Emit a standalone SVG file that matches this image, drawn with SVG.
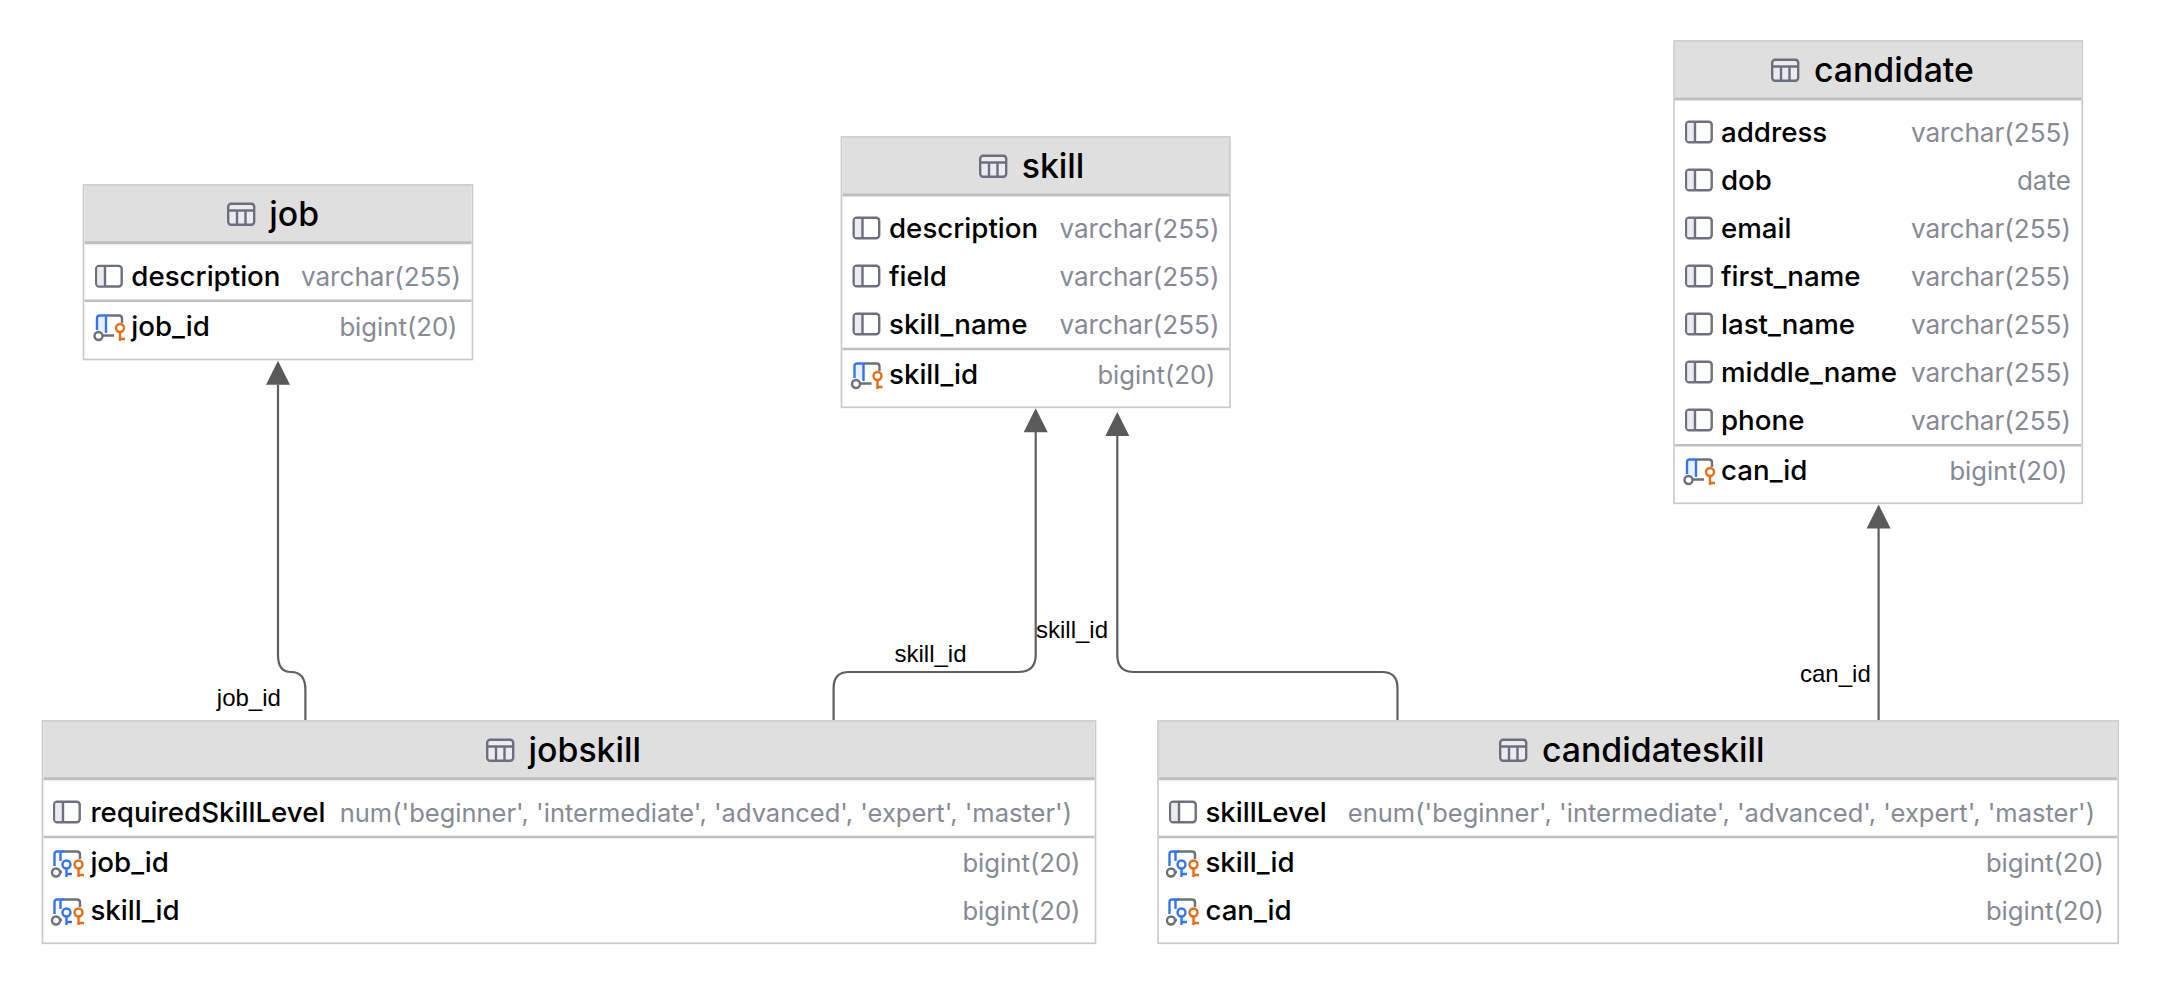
<svg xmlns="http://www.w3.org/2000/svg" width="2160" height="984" viewBox="0 0 2160 984">
<style>
text{font-family:Inter,"Noto Sans",sans-serif}
.box{fill:#fff;stroke:#cacaca;stroke-width:1.700}
.hd{fill:#dfdfdf}
.hl{stroke:#bfbfbf;stroke-width:3;fill:none}
.sep{stroke:#c0c0c0;stroke-width:2.400;fill:none}
.title{font-size:33.800px;font-weight:500;fill:#000}
.name{font-size:27.700px;font-weight:500;fill:#000}
.type{font-size:25.700px;fill:#868a96;text-anchor:end}
.v{font-size:26.100px}
.long{font-size:25.500px}
.conn{fill:none;stroke:#5f5f5f;stroke-width:2.200}
.lbl{font-family:"Liberation Sans",Arial,sans-serif;font-size:24px;fill:#000}
.ic{fill:none;stroke:#6c707e;stroke-width:2.400}
.bl{fill:none;stroke:#3574f0;stroke-width:2.400}
.or{fill:none;stroke:#e66d17;stroke-width:2.400}
</style>
<defs>
<g id="tbl"><rect x="1.200" y="1.200" width="26" height="21" rx="3" fill="#ebecf0" stroke="#6c707e" stroke-width="2.400"/><path class="ic" d="M1 8H27M10 8V22M18.500 8V22"/></g>
<g id="col"><rect x="1.200" y="1.200" width="25.500" height="20.600" rx="3" fill="#fff" stroke="#6c707e" stroke-width="2.400"/><path d="M2.400 2.400H10V20.600H2.400Z" fill="#ebecf0"/><path class="ic" d="M10 1V22"/></g>
<g id="pk"><path d="M2 2.500H11V18H2Z" fill="#eaf1fe"/><path class="ic" d="M11 1.500H24Q27 1.500 27 4.500V9M8 21.500H19"/><path class="bl" d="M2 16V4.500Q2 1.500 5 1.500H11M11 1.500V19"/><circle class="ic" cx="3.500" cy="22" r="4"/><circle class="or" cx="25" cy="14" r="4"/><path class="or" d="M25 18V27M25 25H30"/></g>
<g id="fk"><path class="ic" d="M9 1.500H24Q27 1.500 27 4.500V9"/><path class="bl" d="M1.500 16V4.500Q1.500 1.500 4.500 1.500H11M7.500 1.500V11"/><path class="ic" d="M7 22H9"/><circle class="ic" cx="3" cy="22.500" r="4"/><circle class="bl" cx="13.500" cy="14.500" r="4"/><path class="bl" d="M13.500 18.500V27M13.500 24H19"/><circle class="or" cx="25.500" cy="14.500" r="4"/><path class="or" d="M25.500 18.500V27M25.500 25H31"/></g>
</defs>
<rect width="2160" height="984" fill="#fff"/>
<g id="connectors">
<path class="conn" d="M305.400 720V690Q305.400 672 291 672Q278 672 278 655V384.700"/>
<path d="M278 360.700L290 384.700H266Z" fill="#5a5a5a"/>
<path class="conn" d="M833.600 720V688Q833.600 672 849 672H1018Q1035.700 672 1035.700 655V432"/>
<path d="M1035.700 408.300L1047.700 432.300H1023.700Z" fill="#5a5a5a"/>
<path class="conn" d="M1397.500 720V688Q1397.500 672 1382 672H1134Q1117.300 672 1117.300 655V436"/>
<path d="M1117.300 412L1129.300 436H1105.300Z" fill="#5a5a5a"/>
<path class="conn" d="M1878.600 720V528"/>
<path d="M1878.600 504.500L1890.600 528.500H1866.600Z" fill="#5a5a5a"/>
<text class="lbl" x="216.800" y="705.500">job_id</text>
<text class="lbl" x="894.500" y="661.700">skill_id</text>
<text class="lbl" x="1036" y="638">skill_id</text>
<text class="lbl" x="1800" y="681.700">can_id</text>
</g>
<g id="node-job">
<rect class="box" x="83.500" y="185" width="389" height="174.500"/>
<rect class="hd" x="84.500" y="186" width="387" height="56"/>
<path class="hl" d="M84.500 242.700H471.500"/>
<path class="sep" d="M84.500 300.700H471.500"/>
<use href="#tbl" x="227" y="202.500"/>
<text class="title" x="269.300" y="226">job</text>
<use href="#col" x="95" y="264.700"/>
<text class="name" x="131.300" y="286">description</text>
<text class="type v" x="461" y="286">varchar(255)</text>
<use href="#pk" x="95" y="314"/>
<text class="name" x="131.300" y="335.700">job_id</text>
<text class="type" x="457.500" y="335.700">bigint(20)</text>
</g>
<g id="node-skill">
<rect class="box" x="841.500" y="137" width="388.500" height="270.300"/>
<rect class="hd" x="842.500" y="138" width="386.500" height="56"/>
<path class="hl" d="M842.500 195H1229"/>
<path class="sep" d="M842.500 349H1229"/>
<use href="#tbl" x="979" y="154.500"/>
<text class="title" x="1021.700" y="178">skill</text>
<use href="#col" x="852.500" y="216.500"/>
<text class="name" x="889" y="237.700">description</text>
<text class="type v" x="1219.500" y="237.700">varchar(255)</text>
<use href="#col" x="852.500" y="264.500"/>
<text class="name" x="889" y="285.700">field</text>
<text class="type v" x="1219.500" y="285.700">varchar(255)</text>
<use href="#col" x="852.500" y="312.500"/>
<text class="name" x="889" y="333.800">skill_name</text>
<text class="type v" x="1219.500" y="333.800">varchar(255)</text>
<use href="#pk" x="852.500" y="362"/>
<text class="name" x="889" y="384">skill_id</text>
<text class="type" x="1215.500" y="384">bigint(20)</text>
</g>
<g id="node-candidate">
<rect class="box" x="1674" y="41" width="408.300" height="462.300"/>
<rect class="hd" x="1675" y="42" width="406.300" height="56"/>
<path class="hl" d="M1675 99H2081.300"/>
<path class="sep" d="M1675 445.300H2081.300"/>
<use href="#tbl" x="1771" y="58.500"/>
<text class="title" x="1814" y="82">candidate</text>
<use href="#col" x="1685" y="120.500"/>
<text class="name" x="1721" y="141.800">address</text>
<text class="type v" x="2071" y="141.800">varchar(255)</text>
<use href="#col" x="1685" y="168.500"/>
<text class="name" x="1721" y="189.800">dob</text>
<text class="type v" x="2071" y="189.800">date</text>
<use href="#col" x="1685" y="216.500"/>
<text class="name" x="1721" y="237.800">email</text>
<text class="type v" x="2071" y="237.800">varchar(255)</text>
<use href="#col" x="1685" y="264.500"/>
<text class="name" x="1721" y="285.800">first_name</text>
<text class="type v" x="2071" y="285.800">varchar(255)</text>
<use href="#col" x="1685" y="312.500"/>
<text class="name" x="1721" y="333.800">last_name</text>
<text class="type v" x="2071" y="333.800">varchar(255)</text>
<use href="#col" x="1685" y="360.500"/>
<text class="name" x="1721" y="381.700">middle_name</text>
<text class="type v" x="2071" y="381.700">varchar(255)</text>
<use href="#col" x="1685" y="408.500"/>
<text class="name" x="1721" y="429.700">phone</text>
<text class="type v" x="2071" y="429.700">varchar(255)</text>
<use href="#pk" x="1685" y="458"/>
<text class="name" x="1721" y="480">can_id</text>
<text class="type" x="2067.500" y="480">bigint(20)</text>
</g>
<g id="node-jobskill">
<rect class="box" x="42.500" y="721" width="1053" height="222.300"/>
<rect class="hd" x="43.500" y="722" width="1051" height="56"/>
<path class="hl" d="M43.500 778.700H1094.500"/>
<path class="sep" d="M43.500 837H1094.500"/>
<use href="#tbl" x="486" y="738.500"/>
<text class="title" x="528.600" y="761.700">jobskill</text>
<use href="#col" x="53" y="800.500"/>
<text class="name" x="90.400" y="821.700">requiredSkillLevel</text>
<text class="type long" x="1072" y="821.700">num('beginner', 'intermediate', 'advanced', 'expert', 'master')</text>
<use href="#fk" x="53" y="850"/>
<text class="name" x="90.400" y="871.700">job_id</text>
<text class="type" x="1080.500" y="871.700">bigint(20)</text>
<use href="#fk" x="53" y="898"/>
<text class="name" x="90.400" y="920">skill_id</text>
<text class="type" x="1080.500" y="920">bigint(20)</text>
</g>
<g id="node-candidateskill">
<rect class="box" x="1158" y="721" width="960.200" height="222.300"/>
<rect class="hd" x="1159" y="722" width="958.200" height="56"/>
<path class="hl" d="M1159 778.700H2117.200"/>
<path class="sep" d="M1159 837H2117.200"/>
<use href="#tbl" x="1499" y="738.500"/>
<text class="title" x="1542" y="761.700">candidateskill</text>
<use href="#col" x="1169" y="800.500"/>
<text class="name" x="1205.400" y="821.700">skillLevel</text>
<text class="type long" x="2095" y="821.700">enum('beginner', 'intermediate', 'advanced', 'expert', 'master')</text>
<use href="#fk" x="1168" y="850"/>
<text class="name" x="1205.400" y="871.700">skill_id</text>
<text class="type" x="2104" y="871.700">bigint(20)</text>
<use href="#fk" x="1168" y="898"/>
<text class="name" x="1205.400" y="920">can_id</text>
<text class="type" x="2104" y="920">bigint(20)</text>
</g>
</svg>
